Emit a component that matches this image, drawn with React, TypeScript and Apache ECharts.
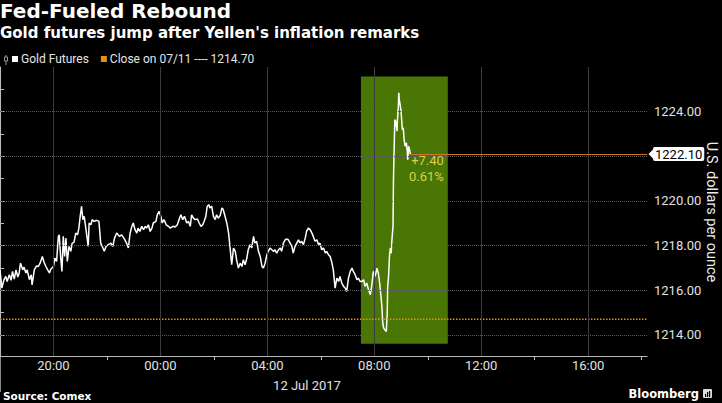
import React, { useEffect, useRef } from 'react';
import * as echarts from 'echarts';

// minutes after 18:00 on 11 Jul 2017
const minutes = [
  0, 4, 9, 13, 16, 21, 25, 28, 32, 36, 40, 43, 46, 51, 54, 58, 61, 66, 70, 72,
  77, 82, 86, 90, 95, 99, 103, 107, 111, 114, 120, 123, 127, 131, 133, 136, 139, 142, 145, 148,
  151, 155, 159, 162, 166, 170, 174, 177, 180, 183, 186, 189, 193, 198, 200, 204, 207, 211, 217, 222,
  226, 231, 234, 238, 243, 249, 253, 257, 262, 268, 273, 278, 284, 288, 292, 296, 299, 303, 307, 310,
  314, 318, 322, 326, 329, 333, 337, 341, 344, 350, 353, 357, 361, 364, 368, 373, 378, 382, 388, 393,
  398, 403, 406, 410, 414, 419, 423, 427, 430, 434, 438, 443, 447, 451, 455, 458, 462, 465, 469, 471,
  475, 479, 483, 486, 490, 494, 498, 501, 505, 509, 513, 516, 520, 524, 528, 531, 535, 539, 543, 546,
  550, 554, 557, 561, 565, 569, 572, 576, 580, 584, 588, 591, 595, 599, 602, 606, 610, 614, 617, 621,
  625, 629, 632, 636, 640, 644, 647, 651, 655, 658, 662, 666, 670, 673, 677, 681, 685, 688, 692, 696,
  700, 703, 707, 711, 715, 718, 722, 726, 730, 733, 737, 741, 745, 748, 752, 756, 760, 763, 767, 771,
  775, 778, 782, 786, 790, 793, 797, 801, 804, 808, 812, 816, 819, 823, 827, 831, 834, 838, 842, 846,
  849, 852, 855, 857, 859, 861, 864, 867, 869, 870, 872, 874, 876, 878, 879, 882, 883, 885, 886, 888,
  891, 892, 894, 895, 896, 898, 900, 903, 905, 907, 909, 912, 914, 915, 917, 919, 921,
];

const prices = [
  1216.91, 1216.09, 1216.47, 1216.62, 1216.39, 1216.69, 1216.44, 1216.84, 1216.5, 1216.91, 1216.59, 1216.77, 1217.21, 1216.91, 1217.03, 1216.77, 1216.91, 1216.47, 1216.69, 1216.24,
  1216.91, 1217.09, 1217.06, 1217.21, 1217.51, 1217.24, 1217.06, 1216.91, 1216.77, 1216.94, 1217.06, 1217.44, 1217.29, 1218.41, 1218.48, 1217.51, 1216.84, 1218.41, 1217.51, 1218.33,
  1217.29, 1217.96, 1217.74, 1218.11, 1218.14, 1218.56, 1218.48, 1218.78, 1219.31, 1219.76, 1219.16, 1219.31, 1218.71, 1217.96, 1219.01, 1218.93, 1219.16, 1219.08, 1219.13, 1219.08,
  1218.11, 1217.89, 1217.74, 1217.96, 1218.04, 1218.11, 1217.96, 1218.33, 1218.56, 1218.41, 1218.48, 1218.33, 1218.11, 1217.89, 1218.56, 1218.86, 1219.01, 1218.71, 1218.56, 1218.78,
  1218.63, 1218.86, 1218.71, 1218.86, 1218.78, 1218.93, 1218.63, 1218.78, 1219.01, 1219.08, 1219.38, 1219.53, 1219.31, 1219.01, 1219.16, 1218.93, 1218.86, 1218.78, 1218.86, 1218.83,
  1218.93, 1219.23, 1219.38, 1219.16, 1219.31, 1219.01, 1219.08, 1218.86, 1219.38, 1219.23, 1219.16, 1219.19, 1219.01, 1218.86, 1218.93, 1219.08, 1219.31, 1219.76, 1219.83, 1219.68,
  1219.76, 1219.31, 1219.16, 1219.38, 1219.23, 1219.34, 1219.68, 1219.61, 1219.31, 1219.01, 1218.56, 1217.96, 1217.14, 1217.89, 1217.74, 1217.36, 1216.99, 1217.21, 1217.06, 1217.36,
  1217.14, 1217.44, 1217.81, 1218.04, 1217.89, 1218.41, 1218.11, 1218.19, 1217.74, 1217.51, 1217.06, 1216.99, 1217.21, 1217.59, 1217.74, 1217.89, 1217.81, 1217.74, 1217.81, 1217.66,
  1217.81, 1217.89, 1217.74, 1218.11, 1218.26, 1218.29, 1218.26, 1218.11, 1217.96, 1217.66, 1217.96, 1218.11, 1218.26, 1218.11, 1218.19, 1218.04, 1218.33, 1218.63, 1218.78, 1218.71,
  1218.56, 1218.41, 1218.19, 1218.26, 1218.04, 1218.11, 1217.81, 1217.89, 1217.66, 1217.74, 1217.59, 1217.51, 1217.21, 1216.91, 1216.09, 1216.54, 1216.39, 1216.62, 1216.32, 1216.17,
  1216.09, 1215.94, 1216.54, 1216.84, 1216.99, 1216.84, 1216.69, 1216.47, 1216.54, 1216.39, 1216.39, 1216.47, 1216.17, 1216.32, 1216.02, 1215.79, 1216.17, 1216.84, 1216.62, 1216.99,
  1216.77, 1216.32, 1215.72, 1215.27, 1214.52, 1214.3, 1214.22, 1214.15, 1214.97, 1216.17, 1216.62, 1217.51, 1217.89, 1217.66, 1218.11, 1218.86, 1220.95, 1222.74, 1223.64, 1223.57,
  1223.12, 1223.64, 1224.24, 1224.84, 1224.54, 1224.31, 1224.02, 1223.19, 1223.27, 1222.74, 1222.45, 1222.6, 1222.22, 1221.85, 1222.45, 1222.3, 1222.1,
];

const closePrice = 1214.7;
const lastPrice = 1222.1;
const changeText = '+7.40';
const changePctText = '0.61%';
const yAxisTitle = 'U.S. dollars per ounce';

const timeLabelValues = [120, 360, 600, 840, 1080, 1320]; // 20:00 .. 16:00
const timeTickValues = [240, 480, 720, 960, 1200, 1440];
const priceGridValues = [1214, 1216, 1218, 1220, 1222, 1224];
const priceLabelValues = [1214, 1216, 1218, 1220, 1224]; // 1222 sits under the last-price tag
const priceTickValues = [1214, 1215, 1216, 1217, 1218, 1219, 1220, 1221, 1222, 1223, 1224, 1225];

const xMin = 0;
const xMax = 1452;
const yMin = 1213.05;
const yMax = 1226;

const highlightFrom = 810; // 07:30
const highlightTo = 1005; // 10:45
const highlightTop = 1225.57;
const highlightBottom = 1213.6;

const pad = (n: number) => (n < 10 ? '0' + n : '' + n);
const fmtTime = (m: number) => {
  const t = (18 * 60 + m) % 1440;
  return pad(Math.floor(t / 60)) + ':' + pad(t % 60);
};

export default function App() {
  const ref = useRef<HTMLDivElement>(null);

  useEffect(() => {
    if (!ref.current) return;
    const chart = echarts.init(ref.current, undefined, { renderer: 'svg' });
    const lastMinute = minutes[minutes.length - 1];
    const goldData = minutes.map((m, i) => [m, prices[i]]);

    const option: any = {
      animation: false,
      backgroundColor: '#000',
      textStyle: { fontFamily: 'Roboto' },
      title: [
        {
          text: 'Fed-Fueled Rebound',
          left: 0,
          top: 1,
          padding: 0,
          textStyle: { color: '#fff', fontFamily: 'DejaVu Sans', fontWeight: 'bold', fontSize: 20 },
        },
        {
          text: "Gold futures jump after Yellen's inflation remarks",
          left: 0,
          top: 25,
          padding: 0,
          textStyle: { color: '#fff', fontFamily: 'DejaVu Sans', fontWeight: 'bold', fontSize: 15 },
        },
      ],
      legend: {
        data: ['Gold Futures', 'Close on 07/11 ---- 1214.70'],
        left: 12,
        top: 53,
        padding: 0,
        icon: 'rect',
        itemWidth: 6,
        itemHeight: 6,
        itemGap: 12,
        selectedMode: false,
        textStyle: { color: '#e6e6e6', fontSize: 12, fontFamily: 'Roboto', padding: [0, 0, 0, -2] },
      },
      grid: { left: 0, right: 75, top: 67, bottom: 47, containLabel: false, outerBoundsMode: 'none' },
      xAxis: {
        type: 'value',
        min: xMin,
        max: xMax,
        axisLine: { show: true, lineStyle: { color: '#bbb', width: 1 } },
        axisTick: { show: true, customValues: timeTickValues, length: 4, lineStyle: { color: '#bbb' } },
        axisLabel: { customValues: timeLabelValues, formatter: fmtTime, color: '#e0e0e0', fontSize: 13, margin: 3 },
        splitLine: { show: false },
      },
      yAxis: {
        type: 'value',
        position: 'right',
        min: yMin,
        max: yMax,
        axisLine: { show: true, lineStyle: { color: '#bbb', width: 1 } },
        axisTick: { show: true, customValues: priceTickValues, length: 4, lineStyle: { color: '#bbb' } },
        axisLabel: {
          customValues: priceLabelValues,
          formatter: (v: number) => v.toFixed(2),
          color: '#e0e0e0',
          fontSize: 13,
          margin: 7,
        },
        splitLine: { show: false },
      },
      series: [
        {
          type: 'line',
          name: 'grid',
          data: [],
          silent: true,
          z: 1,
          markLine: {
            silent: true,
            symbol: ['none', 'none'],
            label: { show: false },
            data: [
              ...priceGridValues.map((v) => ({ yAxis: v, lineStyle: { color: '#5a5a5a', type: 'dotted', width: 1 } })),
              ...timeLabelValues.map((v) => ({ xAxis: v, lineStyle: { color: '#3c3c3c', type: 'solid', width: 1 } })),
            ],
          },
        },
        {
          type: 'line',
          name: 'Gold Futures',
          data: goldData,
          symbol: 'none',
          showSymbol: false,
          z: 2,
          lineStyle: { color: '#ffffff', width: 1.5 },
          itemStyle: { color: '#ffffff' },
          markLine: {
            silent: true,
            symbol: ['none', 'none'],
            lineStyle: { color: '#c8782a', width: 1, type: 'solid' },
            label: {
              show: true,
              position: 'end',
              distance: 6,
              formatter: lastPrice.toFixed(2),
              backgroundColor: '#fff',
              color: '#000',
              fontSize: 13,
              padding: [1, 2, 0, 2],
              borderRadius: 2,
            },
            data: [[{ coord: [lastMinute, lastPrice] }, { coord: [xMax, lastPrice] }]],
          },
        },
        {
          type: 'line',
          name: 'highlight',
          data: [],
          silent: true,
          z: 3,
          markArea: {
            silent: true,
            itemStyle: { color: 'rgba(146,236,10,0.5)' },
            data: [[{ coord: [highlightFrom, highlightTop] }, { coord: [highlightTo, highlightBottom] }]],
          },
        },
        {
          type: 'line',
          name: 'Close on 07/11 ---- 1214.70',
          data: [
            [xMin, closePrice],
            [xMax, closePrice],
          ],
          symbol: 'none',
          showSymbol: false,
          z: 4,
          lineStyle: { color: '#e8900c', type: 'dotted', width: 1.5 },
          itemStyle: { color: '#e8900c' },
        },
        {
          type: 'line',
          name: 'annotations',
          data: [],
          silent: true,
          z: 5,
          markPoint: {
            silent: true,
            data: [
              {
                coord: [lastMinute, lastPrice],
                symbol: 'circle',
                symbolSize: 1,
                itemStyle: { color: 'rgba(0,0,0,0)' },
                label: {
                  show: true,
                  formatter: changeText + '\n' + changePctText,
                  position: [34, -1],
                  align: 'right',
                  verticalAlign: 'top',
                  color: '#d6d24a',
                  fontSize: 13,
                  lineHeight: 16,
                },
              },
              {
                coord: [xMax, lastPrice],
                symbol: 'triangle',
                symbolRotate: 90,
                symbolSize: [10, 5],
                symbolOffset: [4, 0],
                itemStyle: { color: '#fff' },
                label: { show: false },
              },
            ],
          },
        },
      ],
      graphic: [
        {
          type: 'text',
          x: 711,
          y: 212,
          rotation: -Math.PI / 2,
          style: { text: yAxisTitle, fill: '#ececec', font: '14.5px Roboto', align: 'center', verticalAlign: 'middle' },
        },
        {
          type: 'text',
          x: 307,
          y: 385,
          style: { text: '12 Jul 2017', fill: '#e0e0e0', font: '13px Roboto', align: 'center', verticalAlign: 'middle' },
        },
        {
          type: 'text',
          x: 3,
          y: 396,
          style: { text: 'Source: Comex', fill: '#fff', font: 'bold 10.5px "DejaVu Sans"', align: 'left', verticalAlign: 'middle' },
        },
        {
          type: 'text',
          x: 699,
          y: 394,
          style: { text: 'Bloomberg', fill: '#fff', font: 'bold 11.5px "DejaVu Sans"', align: 'right', verticalAlign: 'middle' },
        },
        { type: 'rect', shape: { x: 703, y: 389, width: 9, height: 9, r: 1 }, style: { fill: '#ddd' } },
        { type: 'rect', shape: { x: 705, y: 394, width: 1.2, height: 3 }, style: { fill: '#000' } },
        { type: 'rect', shape: { x: 707, y: 392, width: 1.2, height: 5 }, style: { fill: '#000' } },
        { type: 'rect', shape: { x: 709, y: 391, width: 1.2, height: 6 }, style: { fill: '#000' } },
        { type: 'line', shape: { x1: 0.5, y1: 356, x2: 0.5, y2: 392 }, style: { stroke: '#888', lineWidth: 1 } },
        { type: 'line', shape: { x1: 6, y1: 55, x2: 6, y2: 65 }, style: { stroke: '#999', lineWidth: 1 } },
        { type: 'rect', shape: { x: 4.5, y: 57, width: 3, height: 4 }, style: { fill: '#000', stroke: '#999', lineWidth: 1 } },
      ],
    };

    chart.setOption(option);
    return () => chart.dispose();
  }, []);

  return (
    <div
      ref={ref}
      style={{ position: 'fixed', left: 0, top: 0, width: 722, height: 403, background: '#000' }}
    />
  );
}
